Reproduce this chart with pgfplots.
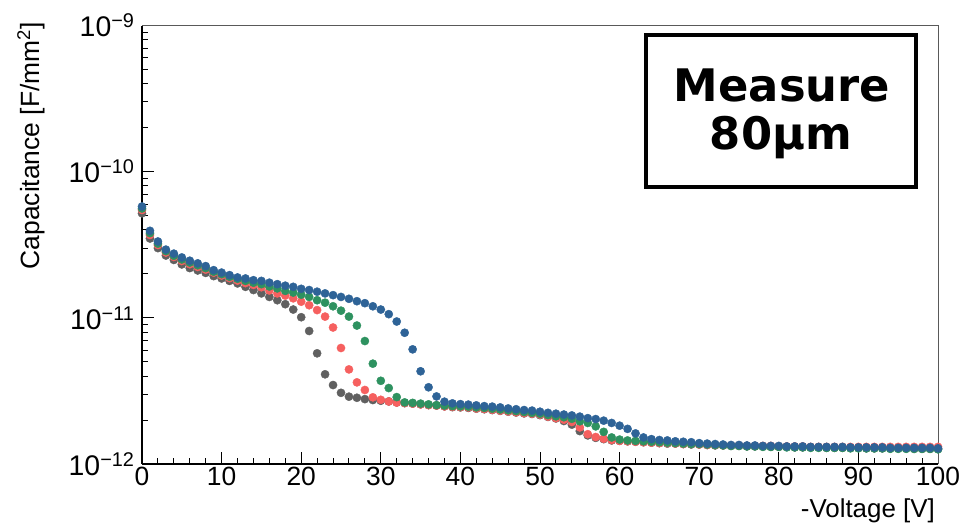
\documentclass[border=0pt]{standalone}
\usepackage{fontspec}
\setmainfont{Liberation Sans}
\newfontfamily\boxfont{DejaVu Sans}
\usepackage{pgfplots}
\usepackage{pgfplotstable}
\pgfplotsset{compat=1.18}

\definecolor{cgray}{RGB}{96,96,96}
\definecolor{cred}{RGB}{246,96,95}
\definecolor{cgreen}{RGB}{46,146,96}
\definecolor{cblue}{RGB}{46,99,151}

% Capacitance per area in pF/mm^2 versus reverse bias voltage
\pgfplotstableread{
V   gray  red   green blue
0   51.9  54.7  56.0  57.8
1   34.9  36.9  38.0  39.4
2   30.0  31.5  32.2  33.3
3   26.7  28.0  28.6  29.3
4   24.9  26.1  26.6  27.5
5   23.2  24.5  25.1  25.9
6   21.9  23.3  23.9  24.6
7   21.1  22.3  22.9  23.6
8   20.3  21.4  21.9  22.6
9   19.3  20.4  20.7  21.2
10  18.6  19.5  19.9  20.4
11  17.9  18.7  19.1  19.6
12  17.2  18.0  18.5  18.9
13  16.3  17.3  17.9  18.6
14  15.5  16.8  17.4  18.1
15  14.7  16.2  17.0  17.9
16  13.9  15.4  16.4  17.4
17  13.2  14.7  15.9  17.0
18  12.4  14.2  15.3  16.6
19  11.4  13.6  14.9  16.3
20  10.1  12.9  14.4  15.8
21  8.13  12.2  13.9  15.5
22  5.72  11.3  13.2  15.1
23  4.11  10.2  12.7  14.7
24  3.47  8.59  12.0  14.3
25  3.07  6.22  11.2  13.9
26  2.89  4.44  10.2  13.5
27  2.84  3.62  8.86  13.0
28  2.78  3.21  6.94  12.6
29  2.74  2.86  4.86  12.0
30  2.71  2.75  3.71  11.4
31  2.68  2.68  3.31  10.6
32  2.64  2.63  2.87  9.44
33  2.61  2.61  2.64  7.91
34  2.59  2.59  2.62  6.09
35  2.56  2.56  2.59  4.31
36  2.53  2.53  2.56  3.35
37  2.51  2.51  2.53  2.90
38  2.48  2.48  2.51  2.67
39  2.45  2.46  2.49  2.60
40  2.44  2.45  2.48  2.57
41  2.42  2.44  2.47  2.55
42  2.39  2.40  2.44  2.52
43  2.37  2.38  2.42  2.49
44  2.34  2.35  2.39  2.47
45  2.31  2.32  2.36  2.44
46  2.28  2.29  2.33  2.40
47  2.25  2.26  2.30  2.37
48  2.22  2.23  2.27  2.34
49  2.20  2.21  2.24  2.32
50  2.16  2.18  2.21  2.28
51  2.10  2.11  2.16  2.24
52  2.05  2.06  2.12  2.21
53  1.97  2.01  2.09  2.18
54  1.86  1.94  2.04  2.15
55  1.68  1.78  1.96  2.11
56  1.57  1.60  1.91  2.06
57  1.51  1.53  1.81  2.03
58  1.48  1.49  1.66  1.98
59  1.45  1.46  1.52  1.91
60  1.44  1.44  1.47  1.83
61  1.43  1.43  1.45  1.74
62  1.42  1.42  1.44  1.62
63  1.41  1.41  1.43  1.52
64  1.40  1.40  1.42  1.48
65  1.39  1.39  1.41  1.46
66  1.38  1.39  1.40  1.45
67  1.38  1.38  1.39  1.43
68  1.37  1.37  1.38  1.42
69  1.36  1.37  1.37  1.41
70  1.36  1.36  1.37  1.39
71  1.35  1.35  1.36  1.38
72  1.34  1.35  1.35  1.37
73  1.34  1.34  1.34  1.36
74  1.33  1.34  1.33  1.35
75  1.33  1.34  1.33  1.35
76  1.32  1.33  1.32  1.34
77  1.32  1.33  1.32  1.34
78  1.32  1.33  1.31  1.33
79  1.31  1.33  1.31  1.33
80  1.31  1.32  1.31  1.33
81  1.31  1.32  1.30  1.32
82  1.30  1.32  1.30  1.32
83  1.30  1.32  1.30  1.32
84  1.30  1.31  1.29  1.31
85  1.30  1.31  1.29  1.31
86  1.29  1.31  1.29  1.31
87  1.29  1.31  1.29  1.31
88  1.29  1.31  1.29  1.31
89  1.29  1.31  1.28  1.30
90  1.29  1.31  1.28  1.30
91  1.28  1.31  1.28  1.30
92  1.28  1.31  1.28  1.30
93  1.28  1.31  1.28  1.30
94  1.28  1.31  1.27  1.29
95  1.28  1.31  1.27  1.29
96  1.28  1.31  1.27  1.29
97  1.27  1.31  1.27  1.29
98  1.27  1.31  1.27  1.29
99  1.27  1.31  1.27  1.29
100 1.27  1.31  1.26  1.28
}\cvdata

\begin{document}
\begin{tikzpicture}
\useasboundingbox (0,0) rectangle (963bp,523bp);
\begin{axis}[
  at={(142bp,59bp)}, anchor=south west,
  scale only axis, width=796bp, height=438.5bp,
  xmin=0, xmax=100,
  ymode=log, ymin=1e-12, ymax=1e-9,
  axis x line*=bottom, axis y line*=left,
  axis line style={black, line width=1.3bp},
  xtick={0,10,...,100}, minor x tick num=4,
  ytick={1e-12,1e-11,1e-10,1e-9},
  yticklabels={10\textsuperscript{−12},10\textsuperscript{−11},10\textsuperscript{−10},10\textsuperscript{−9}},
  tick align=inside,
  major tick length=12bp, minor tick length=6bp,
  every tick/.style={black, line width=1bp},
  /pgf/number format/assume math mode=true,
  xticklabel style={font=\fontsize{26.5}{26.5}\selectfont},
  yticklabel style={font=\fontsize{28.5}{28.5}\selectfont, xshift=-4bp},
  clip=false,
]
\addplot[only marks, mark=*, mark size=4.1bp, color=cgray, mark options={draw=none, fill=cgray}]
  table[x=V, y expr=\thisrow{gray}*1e-12] {\cvdata};
\addplot[only marks, mark=*, mark size=4.1bp, color=cred, mark options={draw=none, fill=cred}]
  table[x=V, y expr=\thisrow{red}*1e-12] {\cvdata};
\addplot[only marks, mark=*, mark size=4.1bp, color=cgreen, mark options={draw=none, fill=cgreen}]
  table[x=V, y expr=\thisrow{green}*1e-12] {\cvdata};
\addplot[only marks, mark=*, mark size=4.1bp, color=cblue, mark options={draw=none, fill=cblue}]
  table[x=V, y expr=\thisrow{blue}*1e-12] {\cvdata};
% thin frame on the top and right sides
\draw[black!65, line width=0.8bp] (rel axis cs:0,1) -| (rel axis cs:1,0);
\end{axis}
% axis titles
\node[rotate=90, anchor=east, inner sep=0pt, font=\fontsize{26.5}{26.5}\selectfont]
  at (31bp,501bp) {Capacitance [F/mm\textsuperscript{2}]};
\node[anchor=base east, inner sep=0pt, font=\fontsize{26}{26}\selectfont]
  at (935bp,6bp) {-Voltage [V]};
% annotation box
\draw[line width=4bp] (646bp,336bp) rectangle (916bp,488bp);
\node[anchor=base, inner sep=0pt, font=\boxfont\bfseries\fontsize{45}{45}\selectfont]
  at (782bp,421.3bp) {Measure};
\node[anchor=base, inner sep=0pt, font=\boxfont\bfseries\fontsize{45}{45}\selectfont]
  at (781bp,373bp) {80µm};
\end{tikzpicture}
\end{document}
